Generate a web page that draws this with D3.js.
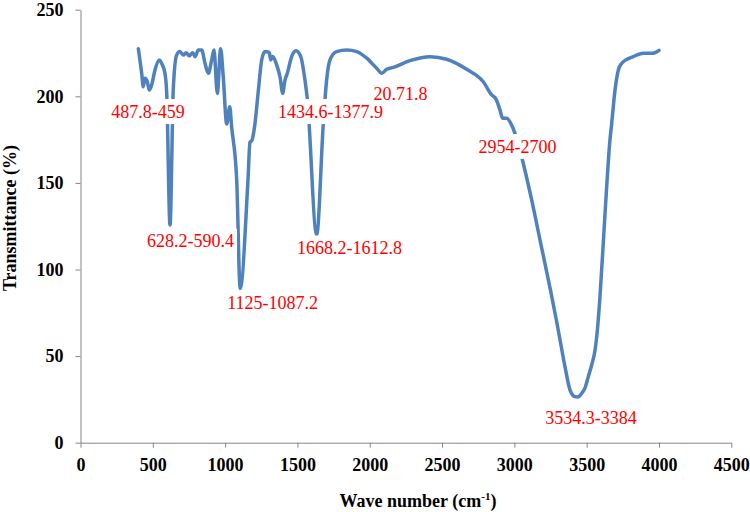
<!DOCTYPE html>
<html>
<head>
    <title>FTIR Spectrum</title>
    <script src="https://d3js.org/d3.v7.min.js"></script>
    <style>
        body { margin: 0; background: #fff; }
    </style>
</head>
<body>
    <div id="chart"></div>

    <script>
        // Spectrum: wave number (cm-1) and transmittance (%)
        var waveNumbers = [400, 423, 434, 446, 462, 476, 492, 515, 545, 561, 584, 596, 619, 642,
            665, 688, 711, 730, 752, 776, 792, 815, 838, 861, 884, 907, 923, 946, 969, 987, 1011,
            1032, 1045, 1080, 1104, 1158, 1172, 1185, 1207, 1230, 1253, 1276, 1306, 1315,
            1329, 1357, 1380, 1398, 1414, 1430, 1460, 1490, 1523, 1552, 1568, 1633, 1679,
            1702, 1725, 1771, 1841, 1910, 1979, 2048, 2083, 2117, 2163, 2278, 2417, 2532, 2670,
            2785, 2843, 2873, 2901, 2919, 2947, 2981, 3004, 3050, 3120, 3180, 3250, 3290, 3316,
            3350, 3385, 3419, 3440, 3466, 3490, 3511, 3535, 3558, 3575, 3592, 3627, 3661, 3673,
            3696, 3719, 3742, 3822, 3892, 3950, 4000];
        var transmittance = [227.5, 213.3, 205.5, 210.4, 208.4, 203.6, 206.5, 215.2, 221, 219, 213.3, 202, 125.7, 205,
            223.8, 225.8, 223.8, 225.2, 223.3, 225.2, 222.9, 226.7, 226.7, 219, 213.3, 221, 226.7, 201.7, 227.5, 211.3, 184,
            194, 182.4, 151.7, 89, 151.7, 173.5, 174.5, 184.6, 203.6, 221, 225.8, 225.2, 221,
            223, 218, 211, 201.7, 209.4, 213.3, 222.9, 226.3, 222.9, 209.4, 198.8, 120, 184.4,
            209.4, 221, 225.8, 226.7, 225.8, 222, 216.2, 213.3, 215.6, 216.7, 220.6, 222.9, 221.4, 215.6,
            208.4, 200.8, 198.4, 192, 187.3, 187.3, 183.4, 178.6, 165.1, 140, 116, 88, 71, 59.3,
            43.9, 30.4, 26.6, 26.4, 28.5, 32, 38.1, 45, 53.5, 66, 84.3, 132.4, 174.8, 184.4,
            203.6, 215.2, 219, 222.9, 224.8, 224.8, 226.5];

        // Peak labels and where their centres sit (in data units)
        var peakLabels = ["487.8-459", "628.2-590.4", "1125-1087.2", "1434.6-1377.9",
            "20.71.8", "1668.2-1612.8", "2954-2700", "3534.3-3384"];
        var labelWave = [467, 761, 1328, 1729, 2213, 1860, 3022, 3530];
        var labelTrans = [191.2, 116.2, 80.7, 191.2, 201.6, 112.4, 171, 14.5];

        var xTicks = [0, 500, 1000, 1500, 2000, 2500, 3000, 3500, 4000, 4500];
        var yTicks = [0, 50, 100, 150, 200, 250];

        var width = 750;
        var height = 512;
        var margin = { top: 9.7, right: 18.7, bottom: 69.3, left: 80.5 };
        var serif = "'Liberation Serif', 'Times New Roman', serif";

        var svg = d3.select("#chart")
            .append("svg")
            .attr("width", width)
            .attr("height", height);

        var x = d3.scaleLinear()
            .domain([0, 4500])
            .range([margin.left, width - margin.right]);

        var y = d3.scaleLinear()
            .domain([0, 250])
            .range([height - margin.bottom, margin.top]);

        // Axes
        var xAxis = svg.append("g")
            .attr("transform", "translate(0," + y(0) + ")")
            .call(d3.axisBottom(x).tickValues(xTicks).tickFormat(d3.format("d"))
                .tickSize(5).tickPadding(11).tickSizeOuter(0));

        var yAxis = svg.append("g")
            .attr("transform", "translate(" + x(0) + ",0)")
            .call(d3.axisLeft(y).tickValues(yTicks).tickFormat(d3.format("d"))
                .tickSize(5).tickPadding(12).tickSizeOuter(0));

        [xAxis, yAxis].forEach(function(ax) {
            ax.selectAll("path, line").attr("stroke", "#868686");
            ax.selectAll("text")
                .attr("fill", "#000")
                .style("font-family", serif)
                .style("font-size", "18px")
                .style("font-weight", "bold");
        });

        // Spectrum line
        var line = d3.line()
            .x(function(d, i) { return x(waveNumbers[i]); })
            .y(function(d) { return y(d); })
            .curve(d3.curveMonotoneX);

        svg.append("path")
            .datum(transmittance)
            .attr("d", line)
            .attr("fill", "none")
            .attr("stroke", "#4F81BD")
            .attr("stroke-width", 3.5)
            .attr("stroke-linejoin", "round")
            .attr("stroke-linecap", "round");

        // Peak labels on white boxes
        var labels = svg.selectAll("g.peak")
            .data(peakLabels)
            .enter()
            .append("g")
            .attr("class", "peak")
            .attr("transform", function(d, i) {
                return "translate(" + x(labelWave[i]) + "," + y(labelTrans[i]) + ")";
            });

        labels.append("text")
            .attr("text-anchor", "middle")
            .attr("y", 6)
            .attr("fill", "#ff0000")
            .style("font-family", serif)
            .style("font-size", "18px")
            .text(function(d) { return d; });

        labels.insert("rect", "text")
            .each(function() {
                var bb = this.parentNode.querySelector("text").getBBox();
                d3.select(this)
                    .attr("x", bb.x - 3)
                    .attr("y", -12.5)
                    .attr("width", bb.width + 6)
                    .attr("height", 25)
                    .attr("fill", "#fff");
            });

        // Axis titles
        svg.append("text")
            .attr("transform", "translate(16,218) rotate(-90)")
            .attr("text-anchor", "middle")
            .style("font-family", serif)
            .style("font-size", "18px")
            .style("font-weight", "bold")
            .text("Transmittance (%)");

        var xTitle = svg.append("text")
            .attr("x", 418)
            .attr("y", 507)
            .attr("text-anchor", "middle")
            .style("font-family", serif)
            .style("font-size", "18px")
            .style("font-weight", "bold");
        xTitle.append("tspan").text("Wave number (cm");
        xTitle.append("tspan").attr("dy", -7).style("font-size", "11px").text("-1");
        xTitle.append("tspan").attr("dy", 7).text(")");
    </script>
</body>
</html>
